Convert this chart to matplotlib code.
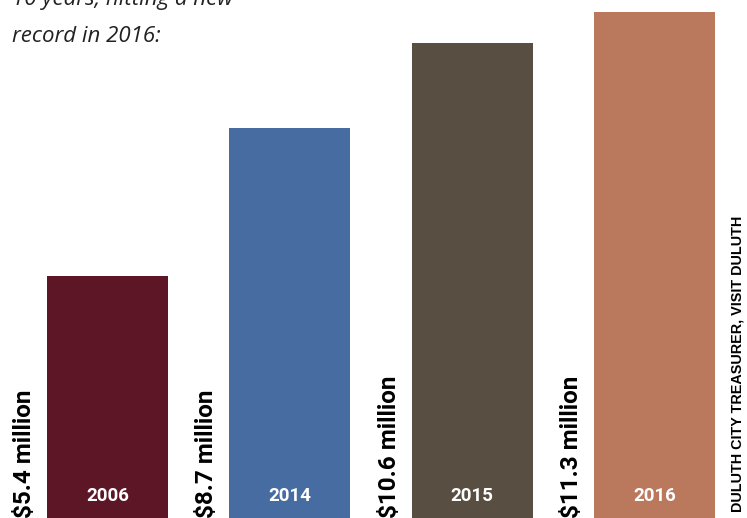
import matplotlib.pyplot as plt

years = ["2006", "2014", "2015", "2016"]
revenue = [5.4, 8.7, 10.6, 11.3]  # millions of dollars
labels = ["$5.4 million", "$8.7 million", "$10.6 million", "$11.3 million"]
colors = ["#5c1626", "#466ca2", "#584f42", "#ba785c"]

fig = plt.figure(figsize=(7.47, 5.18), dpi=100)
ax = fig.add_axes([0, 0, 1, 1])
xs = list(range(len(years)))
ax.bar(xs, revenue, width=0.664, color=colors)
ax.set_xlim(-0.59, 3.507)
ax.set_ylim(0, 11.567)
ax.axis("off")

for x, val, lab, yr in zip(xs, revenue, labels, years):
    ax.text(x - 0.455, 0.0, lab, rotation=90, ha="center", va="bottom",
            family="Roboto", weight="bold", fontsize=17.5, color="black")
    ax.text(x, 0.5, yr, ha="center", va="center", family="Roboto",
            weight="bold", fontsize=13.5, color="white")

fig.text(0.987, 0.012, "DULUTH CITY TREASURER, VISIT DULUTH", rotation=90,
         ha="center", va="bottom", family="Liberation Sans", weight="bold",
         fontsize=10.4, color="black")

# intro lines, the first one runs off the top edge
fig.text(0.016, 1 - 5 / 518, "10 years, hitting a new", ha="left",
         va="baseline", family="Open Sans", style="italic", fontsize=16,
         color="#222222")
fig.text(0.016, 1 - 42 / 518, "record in 2016:", ha="left",
         va="baseline", family="Open Sans", style="italic", fontsize=16,
         color="#222222")

fig.savefig("out.png", dpi=100)
